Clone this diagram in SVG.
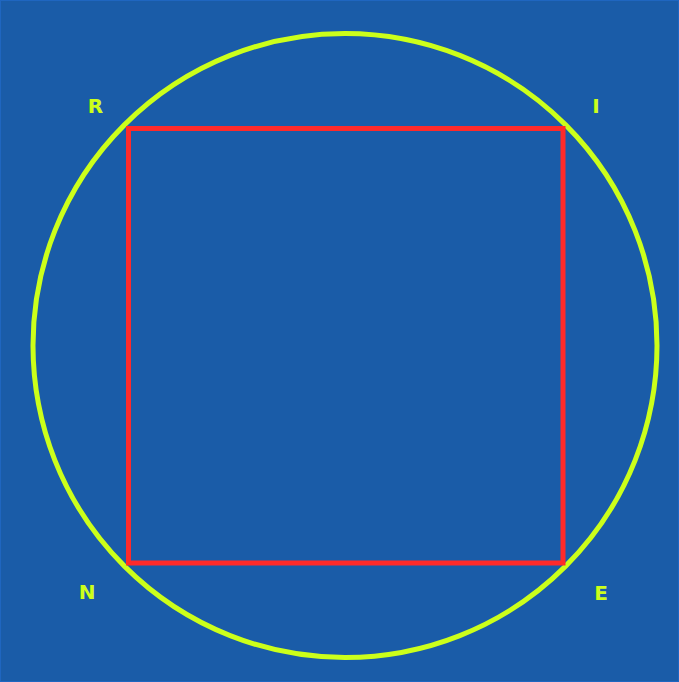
<svg xmlns="http://www.w3.org/2000/svg" width="679" height="682" viewBox="0 0 679 682">
<style>
.lbl{font-family:"DejaVu Sans",Verdana,sans-serif;font-weight:bold;font-size:20px;fill:#ccff1a;text-anchor:middle}
</style>
<rect x="0" y="0" width="679" height="682" fill="#1a5ca8"/>
<rect x="0.5" y="0.5" width="678" height="681" fill="none" stroke="#1f66c0" stroke-width="1"/>
<g id="circle"><circle cx="345" cy="345.5" r="312" fill="none" stroke="#ccff1a" stroke-width="5"/></g>
<g id="square"><rect x="128.5" y="128.5" width="434.5" height="434.5" fill="none" stroke="#ff2a2a" stroke-width="5"/></g>
<g id="label-R"><text class="lbl" x="95.5" y="112.5">R</text></g>
<g id="label-I"><text class="lbl" x="596" y="112.5">I</text></g>
<g id="label-N"><text class="lbl" x="87" y="599">N</text></g>
<g id="label-E"><text class="lbl" x="601" y="599.5">E</text></g>
</svg>
